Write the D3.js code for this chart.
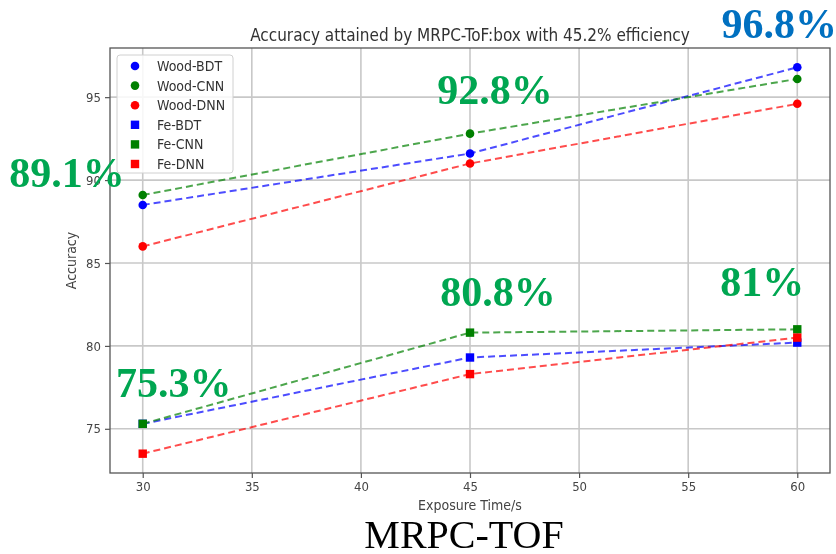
<!DOCTYPE html>
<html>
<head>
<meta charset="utf-8">
<script src="https://cdn.jsdelivr.net/npm/d3@7"></script>
<style>
  html, body { margin: 0; padding: 0; background: #fff; }
  svg { display: block; }
</style>
</head>
<body>
<svg id="chart" width="836" height="554"></svg>
<script>
// Exposure times (s) on the x axis
const exposureTimes = [30, 45, 60];

// Accuracy (%) per classifier, for the wood and iron targets
const woodBDT = [88.5, 91.6, 96.8];
const woodCNN = [89.1, 92.8, 96.1];
const woodDNN = [86.0, 91.0, 94.6];
const feBDT   = [75.3, 79.3, 80.2];
const feCNN   = [75.3, 80.8, 81.0];
const feDNN   = [73.5, 78.3, 80.5];

const seriesNames = ["Wood-BDT", "Wood-CNN", "Wood-DNN", "Fe-BDT", "Fe-CNN", "Fe-DNN"];
const seriesValues = [woodBDT, woodCNN, woodDNN, feBDT, feCNN, feDNN];
const seriesColors = ["#0000ff", "#008000", "#ff0000", "#0000ff", "#008000", "#ff0000"];
const seriesMarkers = ["circle", "circle", "circle", "square", "square", "square"];

const xTicks = [30, 35, 40, 45, 50, 55, 60];
const yTicks = [75, 80, 85, 90, 95];

// Highlighted accuracies: [series index, point index, text colour, dx, dy, anchor]
const callouts = [
  [1, 0, "#00a651", -18, -8, "end"],
  [1, 1, "#00a651", 25, -30, "middle"],
  [0, 2, "#0070c0", -18, -29, "middle"],
  [4, 0, "#00a651", 31, -27, "middle"],
  [4, 1, "#00a651", 28, -27, "middle"],
  [4, 2, "#00a651", -35, -33, "middle"]
];

const titleText = "Accuracy attained by MRPC-ToF:box with 45.2% efficiency";
const xLabel = "Exposure Time/s";
const yLabel = "Accuracy";
const captionText = "MRPC-TOF";

const svg = d3.select("#chart");
const plot = { left: 110, right: 830, top: 48, bottom: 473 };

// Axis limits with a 5% margin around the data, as matplotlib does
const allVals = seriesValues.flat();
const yMin = d3.min(allVals), yMax = d3.max(allVals);
const yPad = (yMax - yMin) * 0.05;
const xPad = (d3.max(exposureTimes) - d3.min(exposureTimes)) * 0.05;

const x = d3.scaleLinear()
  .domain([d3.min(exposureTimes) - xPad, d3.max(exposureTimes) + xPad])
  .range([plot.left, plot.right]);
const y = d3.scaleLinear()
  .domain([yMin - yPad, yMax + yPad])
  .range([plot.bottom, plot.top]);

// Soft rendering of the plotted figure
const defs = svg.append("defs");
defs.append("filter").attr("id", "soft")
  .attr("x", "-5%").attr("y", "-5%").attr("width", "110%").attr("height", "110%")
  .append("feGaussianBlur").attr("stdDeviation", 0.55);

const fig = svg.append("g").attr("filter", "url(#soft)");
const sans = "'DejaVu Sans Condensed', 'DejaVu Sans', sans-serif";

// Grid
fig.append("g").selectAll("line.vg").data(xTicks).join("line")
  .attr("x1", d => x(d)).attr("x2", d => x(d))
  .attr("y1", plot.top).attr("y2", plot.bottom)
  .attr("stroke", "#c8c8c8").attr("stroke-width", 1.6);
fig.append("g").selectAll("line.hg").data(yTicks).join("line")
  .attr("y1", d => y(d)).attr("y2", d => y(d))
  .attr("x1", plot.left).attr("x2", plot.right)
  .attr("stroke", "#c8c8c8").attr("stroke-width", 1.6);

// Axes
const xAxis = fig.append("g").attr("transform", `translate(0,${plot.bottom})`)
  .call(d3.axisBottom(x).tickValues(xTicks).tickSize(5).tickPadding(4).tickSizeOuter(0));
const yAxis = fig.append("g").attr("transform", `translate(${plot.left},0)`)
  .call(d3.axisLeft(y).tickValues(yTicks).tickSize(5).tickPadding(4).tickSizeOuter(0));
[xAxis, yAxis].forEach(a => {
  a.select(".domain").remove();
  a.selectAll(".tick line").attr("stroke", "#555").attr("stroke-width", 1.2);
  a.selectAll(".tick text").attr("fill", "#444").style("font-family", sans).style("font-size", "13px");
});

// Frame
fig.append("rect")
  .attr("x", plot.left).attr("y", plot.top)
  .attr("width", plot.right - plot.left).attr("height", plot.bottom - plot.top)
  .attr("fill", "none").attr("stroke", "#555").attr("stroke-width", 1.3);

// Series lines and markers
const line = d3.line().x((d, i) => x(exposureTimes[i])).y(d => y(d));
seriesValues.forEach((vals, s) => {
  fig.append("path").datum(vals)
    .attr("d", line)
    .attr("fill", "none")
    .attr("stroke", seriesColors[s])
    .attr("stroke-opacity", 0.7)
    .attr("stroke-width", 2)
    .attr("stroke-dasharray", "7,4");
  const g = fig.append("g");
  if (seriesMarkers[s] === "circle") {
    g.selectAll("circle").data(vals).join("circle")
      .attr("cx", (d, i) => x(exposureTimes[i])).attr("cy", d => y(d))
      .attr("r", 4.3).attr("fill", seriesColors[s]);
  } else {
    g.selectAll("rect").data(vals).join("rect")
      .attr("x", (d, i) => x(exposureTimes[i]) - 4.2).attr("y", d => y(d) - 4.2)
      .attr("width", 8.4).attr("height", 8.4).attr("fill", seriesColors[s]);
  }
});

// Legend
const legend = fig.append("g");
legend.append("rect")
  .attr("x", 117).attr("y", 55).attr("width", 116).attr("height", 118)
  .attr("rx", 3).attr("fill", "#fff").attr("fill-opacity", 0.85)
  .attr("stroke", "#d0d0d0").attr("stroke-width", 1);
seriesNames.forEach((name, i) => {
  const ly = 66 + i * 19.6;
  if (seriesMarkers[i] === "circle") {
    legend.append("circle").attr("cx", 135).attr("cy", ly).attr("r", 4.3).attr("fill", seriesColors[i]);
  } else {
    legend.append("rect").attr("x", 130.8).attr("y", ly - 4.2).attr("width", 8.4).attr("height", 8.4)
      .attr("fill", seriesColors[i]);
  }
  legend.append("text").attr("x", 157).attr("y", ly).attr("dy", "0.35em")
    .style("font-family", sans).style("font-size", "14px").attr("fill", "#333")
    .text(name);
});

// Title and axis labels
fig.append("text").attr("x", (plot.left + plot.right) / 2).attr("y", 41)
  .attr("text-anchor", "middle").style("font-family", sans).style("font-size", "17px")
  .attr("fill", "#333").text(titleText);
fig.append("text").attr("x", (plot.left + plot.right) / 2).attr("y", 510)
  .attr("text-anchor", "middle").style("font-family", sans).style("font-size", "14px")
  .attr("fill", "#444").text(xLabel);
fig.append("text").attr("transform", `translate(76,${(plot.top + plot.bottom) / 2}) rotate(-90)`)
  .attr("text-anchor", "middle").style("font-family", sans).style("font-size", "14px")
  .attr("fill", "#444").text(yLabel);

// Highlighted accuracies
const serif = "'Liberation Serif', 'Times New Roman', serif";
callouts.forEach(([s, p, color, dx, dy, anchor]) => {
  const v = seriesValues[s][p];
  svg.append("text")
    .attr("x", x(exposureTimes[p]) + dx).attr("y", y(v) + dy)
    .attr("text-anchor", anchor)
    .style("font-family", serif).style("font-weight", "bold").style("font-size", "42px")
    .attr("fill", color)
    .text(`${v}%`);
});

// Caption
svg.append("text").attr("x", 464).attr("y", 548)
  .attr("text-anchor", "middle").style("font-family", serif).style("font-size", "40px")
  .attr("fill", "#000").text(captionText);
</script>
</body>
</html>
